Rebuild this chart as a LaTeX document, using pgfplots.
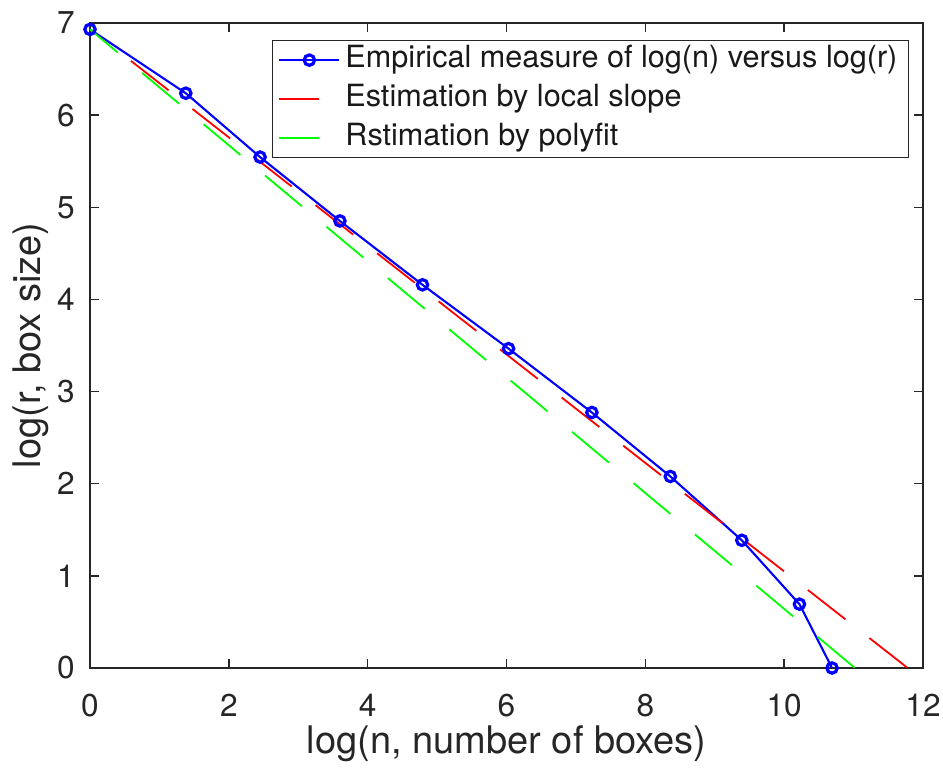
\documentclass[border=0pt]{standalone}
\usepackage{fontspec}
\setmainfont{TeX Gyre Heros}
\usepackage{pgfplots}
\pgfplotsset{compat=1.18}
\definecolor{axgray}{RGB}{38,38,38}
\definecolor{mblue}{RGB}{0,0,255}
\definecolor{mred}{RGB}{255,0,0}
\definecolor{mgreen}{RGB}{0,255,0}
\pgfplotsset{shortline/.style={legend image code/.code={\draw[##1,solid] (0pt,0pt) -- (20pt,0pt);}}}
\begin{document}
\begin{tikzpicture}
\useasboundingbox (-45pt,-50pt) rectangle (426.5pt,334pt);
\begin{axis}[
  at={(0pt,0pt)}, anchor=south west,
  width=416.5pt, height=322.5pt, scale only axis,
  xmin=0, xmax=12, ymin=0, ymax=7,
  xtick={0,2,...,12}, ytick={0,1,...,7},
  tick align=inside, tick pos=both,
  major tick length=4.5pt,
  axis line style={axgray, line width=0.75pt},
  every tick/.style={axgray, line width=0.75pt},
  tick label style={font=\fontsize{15.8}{18}\selectfont, text=axgray},
  /pgf/number format/assume math mode=true,
  xticklabel style={anchor=north, inner sep=0pt, yshift=-13pt},
  yticklabel style={anchor=east, inner sep=0pt, xshift=-7.5pt},
  xlabel={log(n, number of boxes)},
  ylabel={log(r, box size)},
  label style={font=\fontsize{19}{22}\selectfont, text=axgray},
  xlabel style={at={(axis description cs:0.5,-0.1318)}, anchor=base},
  ylabel style={at={(axis description cs:-0.0600,0.5)}, anchor=base},
  clip=false,
  legend cell align=left,
  legend style={at={(rel axis cs:0.9832,0.9736)}, anchor=north east,
    draw=axgray, line width=0.6pt, font=\fontsize{15.3}{18}\selectfont,
    text=black!90, inner xsep=3pt, inner ysep=0pt,
    nodes={inner sep=2.5pt, text height=11pt, text depth=3.5pt}},
  legend image code/.code={\draw[mark repeat=2,mark phase=2,#1] plot coordinates {(0pt,0pt) (15pt,0pt) (30pt,0pt)};},
]
\addplot[mblue, line width=1.05pt, mark=o, mark size=2.6pt, mark options={line width=1.6pt, solid}] coordinates {
(0,6.931) (1.38,6.238) (2.45,5.545) (3.60,4.852) (4.79,4.159) (6.03,3.466)
(7.23,2.773) (8.36,2.079) (9.39,1.386) (10.22,0.693) (10.69,0)
};
\addlegendentry{Empirical measure of log(n) versus log(r)}
\addplot[mred, line width=0.9pt, dash pattern=on 23.9pt off 15.15pt, shortline] coordinates {
(0.59,6.589) (11.78,0)
};
\addlegendentry{Estimation by local slope}
\addplot[mgreen, line width=0.9pt, dash pattern=on 24pt off 16pt, dash phase=6pt, shortline] coordinates {
(0,6.931) (11.02,0)
};
\addlegendentry{Rstimation by polyfit}
\end{axis}
\end{tikzpicture}
\end{document}
